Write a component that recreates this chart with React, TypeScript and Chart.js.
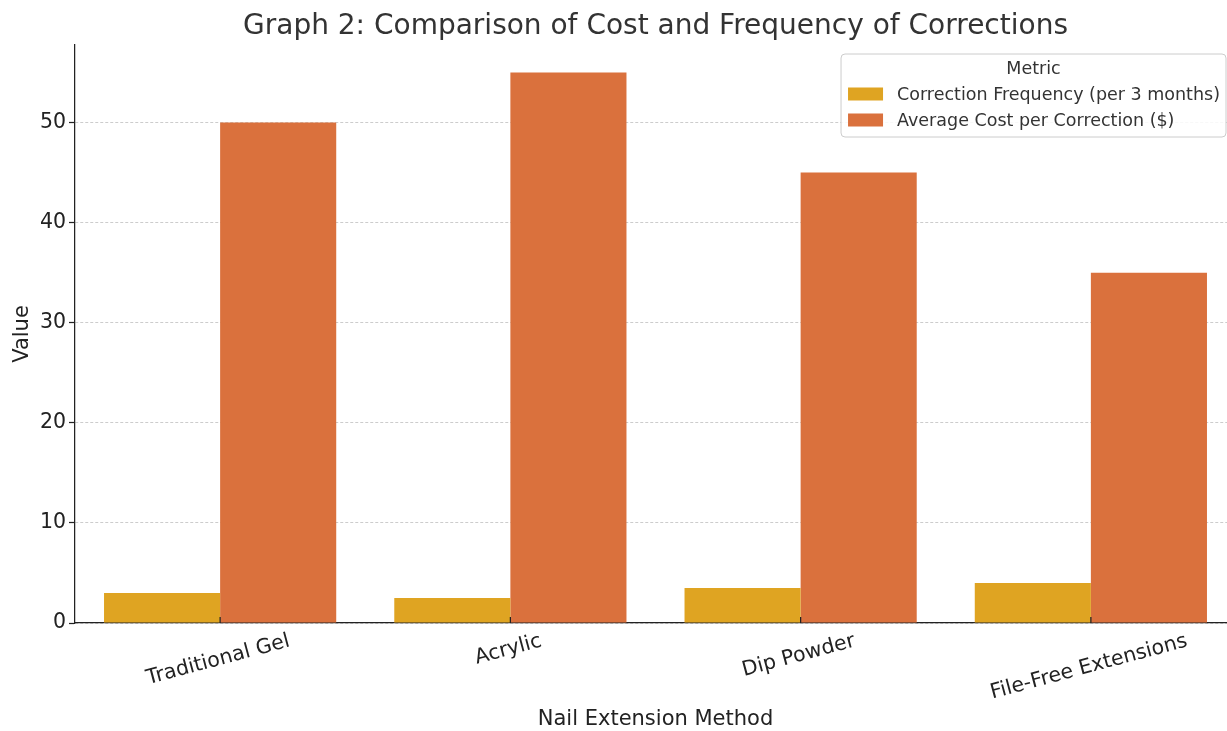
import React, { useEffect, useRef } from "react";
import { Chart, registerables } from "chart.js";

Chart.register(...registerables);

const categories = ["Traditional Gel", "Acrylic", "Dip Powder", "File-Free Extensions"];
const frequencyValues = [3, 2.5, 3.5, 4];
const costValues = [50, 55, 45, 35];
const seriesLabels = ["Correction Frequency (per 3 months)", "Average Cost per Correction ($)"];
const seriesColors = ["#DFA422", "#DA713D"];
const yTickValues = [0, 10, 20, 30, 40, 50];
const chartTitle = "Graph 2: Comparison of Cost and Frequency of Corrections";
const xAxisTitle = "Nail Extension Method";
const yAxisTitle = "Value";
const legendTitle = "Metric";
const yMax = 57.75;

const FONT = "'DejaVu Sans', sans-serif";

const xLabelsPlugin = {
  id: "xLabels",
  afterDraw(chart: any) {
    const ctx = chart.ctx;
    const xs = chart.scales.x;
    const area = chart.chartArea;
    ctx.save();
    ctx.strokeStyle = "#222";
    ctx.lineWidth = 1.25;
    categories.forEach((_, i) => {
      const x = xs.getPixelForTick(i);
      ctx.beginPath();
      ctx.moveTo(x, area.bottom);
      ctx.lineTo(x, area.bottom - 6);
      ctx.stroke();
    });
    ctx.font = `20.5px ${FONT}`;
    ctx.fillStyle = "#222";
    ctx.textAlign = "center";
    ctx.textBaseline = "middle";
    const ang = (15 * Math.PI) / 180;
    categories.forEach((label, i) => {
      const x = xs.getPixelForTick(i);
      const w = ctx.measureText(label).width;
      const h = 20.5;
      const bboxH = w * Math.sin(ang) + h * Math.cos(ang);
      const cy = area.bottom + 8 + bboxH / 2;
      ctx.save();
      ctx.translate(x - 2, cy);
      ctx.rotate(-ang);
      ctx.fillText(label, 0, 0);
      ctx.restore();
    });
    ctx.restore();
  },
};

const legendPlugin = {
  id: "boxLegend",
  afterDraw(chart: any) {
    const ctx = chart.ctx;
    const area = chart.chartArea;
    ctx.save();
    ctx.font = `17.5px ${FONT}`;
    const maxW = Math.max(...seriesLabels.map((l) => ctx.measureText(l).width));
    const w = 56 + maxW + 6;
    const right = area.right - 10;
    const left = right - w;
    const top = area.top + 9;
    const h = 83;
    ctx.beginPath();
    (ctx as any).roundRect(left, top, w, h, 4);
    ctx.fillStyle = "rgba(255,255,255,0.85)";
    ctx.fill();
    ctx.strokeStyle = "#cccccc";
    ctx.lineWidth = 1;
    ctx.stroke();
    ctx.fillStyle = "#333";
    ctx.textBaseline = "middle";
    ctx.textAlign = "center";
    ctx.fillText(legendTitle, left + w / 2, top + 15);
    ctx.textAlign = "left";
    seriesLabels.forEach((l, i) => {
      const cy = top + 40 + i * 26;
      ctx.fillStyle = seriesColors[i];
      ctx.fillRect(left + 7, cy - 6.5, 35, 13);
      ctx.fillStyle = "#333";
      ctx.fillText(l, left + 56, cy + 1);
    });
    ctx.restore();
  },
};

export default function App() {
  const ref = useRef<HTMLCanvasElement | null>(null);
  useEffect(() => {
    if (!ref.current) return;
    const chart = new Chart(ref.current, {
      type: "bar",
      data: {
        labels: categories,
        datasets: [
          {
            label: seriesLabels[0],
            data: frequencyValues,
            backgroundColor: seriesColors[0],
            borderWidth: 0,
            categoryPercentage: 0.8,
            barPercentage: 1.0,
          },
          {
            label: seriesLabels[1],
            data: costValues,
            backgroundColor: seriesColors[1],
            borderWidth: 0,
            categoryPercentage: 0.8,
            barPercentage: 1.0,
          },
        ],
      },
      options: {
        responsive: false,
        animation: false,
        layout: { padding: { left: 0, right: 14, top: 0, bottom: 0 } },
        plugins: {
          legend: { display: false },
          tooltip: { enabled: false },
          title: {
            display: true,
            text: chartTitle,
            fullSize: false,
            color: "#333",
            font: { family: FONT, size: 28, weight: "normal" },
            padding: { top: 10, bottom: 1.4 },
          },
        },
        scales: {
          x: {
            grid: { display: false },
            border: { display: true, color: "#222", width: 1.25 },
            ticks: { display: false },
            title: {
              display: true,
              text: xAxisTitle,
              color: "#222",
              font: { family: FONT, size: 21 },
              padding: { top: 0, bottom: -1.5 },
            },
            afterFit(scale: any) {
              scale.height = 108;
            },
          },
          y: {
            min: 0,
            max: yMax,
            afterBuildTicks(scale: any) {
              scale.ticks = yTickValues.map((v) => ({ value: v }));
            },
            ticks: {
              color: "#222",
              font: { family: FONT, size: 20.5 },
              padding: 3,
            },
            grid: {
              color: "#cccccc",
              lineWidth: 1,
              drawTicks: true,
              tickLength: 6,
              tickColor: "#222",
              tickWidth: 1.25,
              tickBorderDash: [],
            } as any,
            border: { display: true, color: "#222", width: 1.25, dash: [3, 2] },
            title: {
              display: true,
              text: yAxisTitle,
              color: "#222",
              font: { family: FONT, size: 21 },
              padding: { top: 10, bottom: 0 },
            },
            afterFit(scale: any) {
              scale.width = 75;
            },
          },
        },
      },
      plugins: [xLabelsPlugin, legendPlugin],
    });
    return () => chart.destroy();
  }, []);
  return (
    <div style={{ position: "fixed", left: 0, top: 0, width: 1227, height: 731, overflow: "hidden", background: "#fff" }}>
      <canvas ref={ref} width={1250} height={731} style={{ width: 1250, height: 731, display: "block" }} />
    </div>
  );
}
